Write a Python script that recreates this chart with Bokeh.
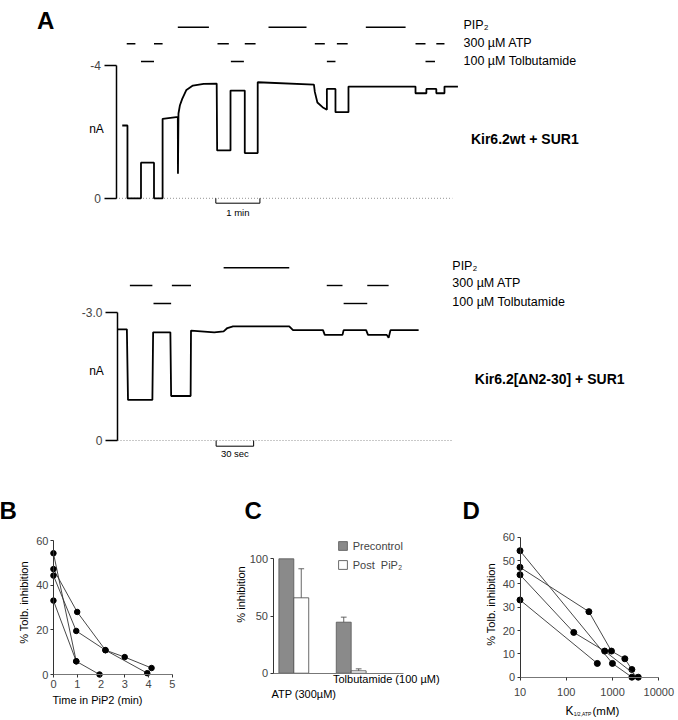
from bokeh.plotting import figure
from bokeh.models import Range1d, FixedTicker, Legend, LegendItem
from bokeh.layouts import column, row
from bokeh.embed import file_html
from bokeh.resources import INLINE
from bokeh.core.properties import value
import math

FONT = "Liberation Sans"

# ---------------- data ----------------
# Panel A, upper record: Kir6.2wt + SUR1 (time in s, current in nA)
a1_time = [8.5, 15.6, 15.6, 34.0, 34.0, 51.7, 51.7, 63.4, 63.4, 82.0, 84.1, 84.3, 85.0, 87.0,
           90.1, 95.8, 104.6, 119.3, 137.0, 137.6, 155.8, 155.8, 175.2, 175.2, 192.8, 192.8,
           269.3, 270.5, 274.0, 281.0, 286.9, 286.9, 298.6, 298.6, 316.3, 316.3, 407.5, 407.5,
           422.3, 422.3, 435.8, 435.8, 446.9, 446.9, 465.2]
a1_current = [-2.19, -2.19, 0.0, 0.0, -1.07, -1.07, 0.0, 0.0, -2.39, -2.44, -2.44, -0.74, -2.55, -2.80,
              -2.99, -3.26, -3.39, -3.44, -3.45, -1.44, -1.44, -3.24, -3.24, -1.36, -1.36, -3.49,
              -3.42, -3.20, -2.88, -2.74, -2.66, -3.29, -3.29, -2.59, -2.59, -3.36, -3.36, -3.16,
              -3.16, -3.29, -3.29, -3.16, -3.16, -3.36, -3.36]
a1_pip2 = [(84.1, 126.4), (207.5, 259.2), (339.9, 394.0)]
a1_atp = [(14.6, 26.4), (51.7, 63.4), (138.1, 153.5), (175.2, 189.9),
          (270.5, 284.1), (300.5, 315.2), (407.5, 421.1), (435.8, 446.9)]
a1_tolb = [(34.0, 51.7), (156.3, 174.0), (286.9, 298.6), (421.1, 434.0)]
a1_scale = (135.8, 60.0)          # start, length (s)  -> "1 min"
a1_ticks = [-4, 0]
a1_tick_labels = ["-4", "0"]

# Panel A, lower record: Kir6.2[dN2-30] + SUR1
a2_time = [0.0, 7.5, 8.4, 27.9, 28.5, 42.3, 42.9, 58.5, 58.8, 77.4, 84.9, 87.9, 92.4, 137.4,
           140.4, 164.4, 165.8, 180.0, 180.9, 198.9, 200.4, 215.4, 216.9, 218.4, 240.9]
a2_current = [-2.60, -2.60, -0.95, -0.95, -2.53, -2.53, -1.04, -1.04, -2.57, -2.53, -2.55, -2.63,
              -2.67, -2.67, -2.58, -2.58, -2.47, -2.47, -2.58, -2.58, -2.47, -2.47, -2.40, -2.58, -2.58]
a2_pip2 = [(84.9, 137.4)]
a2_atp = [(9.9, 27.9), (43.5, 58.8), (167.4, 180.0), (199.8, 216.9)]
a2_tolb = [(28.8, 42.9), (180.9, 199.8)]
a2_scale = (78.9, 30.0)           # "30 sec"
a2_ticks = [-3, 0]
a2_tick_labels = ["-3.0", "0"]

stim_labels = ["PIP₂", "300 µM ATP", "100 µM Tolbutamide"]

# Panel B: % tolbutamide inhibition vs time in PIP2 (min)
b_time_1 = [0, 0.96, 1.94]
b_inhib_1 = [54.3, 5.9, 0.0]
b_time_2 = [0, 1.0, 2.19, 3.0, 4.13]
b_inhib_2 = [47.2, 28.0, 10.9, 7.8, 2.9]
b_time_3 = [0, 0.96, 2.19, 3.95]
b_inhib_3 = [44.3, 19.5, 10.9, 0.6]
b_time_4 = [0, 0.96]
b_inhib_4 = [33.1, 5.9]
b_xticks = [0, 1, 2, 3, 4, 5]
b_yticks = [0, 20, 40, 60]

# Panel C: % inhibition
c_groups = ["ATP (300µM)", "Tolbutamide (100 µM)"]
c_pre = [100.0, 44.6]
c_pre_err = [0.0, 4.4]
c_post = [65.9, 2.1]
c_post_err = [25.4, 1.7]
c_yticks = [0, 50, 100]

# Panel D: % tolbutamide inhibition vs K1/2,ATP (mM)
d_k_1 = [10, 995, 2618]
d_inhib_1 = [54.2, 5.9, 0.0]
d_k_2 = [10, 308, 946, 1845, 2618]
d_inhib_2 = [47.1, 28.1, 11.2, 7.9, 3.3]
d_k_3 = [10, 145, 676, 3597]
d_inhib_3 = [43.9, 19.2, 11.2, 0.0]
d_k_4 = [10, 469]
d_inhib_4 = [33.1, 5.9]
d_xticks = [10, 100, 1000, 10000]
d_yticks = [0, 10, 20, 30, 40, 50, 60]

# ---------------- page layout (pixels) ----------------
W = 676
A1_Y0, A1_Y1 = 0, 232
A2_Y0, A2_Y1 = 232, 470
R_Y0, R_Y1 = 470, 718
B_X0, B_X1 = 0, 215
C_X0, C_X1 = 215, 458
D_X0, D_X1 = 458, W

# pixel -> data maps for each panel
fx1 = lambda px: (px - 115.5) / 0.735
fy1 = lambda py: (py - 197.8) / 33.25
fx2 = lambda px: (px - 117.0) / 1.25
fy2 = lambda py: (py - 440.0) / 42.77
fxB = lambda px: (px - 52.95) / 23.75
fyB = lambda py: (674.0 - py) / 2.233
fxC = lambda px: 1 + (px - 293.3) / 57.4
fyC = lambda py: (672.7 - py) / 1.144
fxD = lambda px: 10 ** (1 + (px - 519.5) / 46.27)
fyD = lambda py: (676.7 - py) / 2.333

LETTER = "24px"


def base_fig(w, h, xr, yr, x_type="linear", x_axis=True):
    p = figure(width=w, height=h, x_range=Range1d(*xr), y_range=Range1d(*yr),
               x_axis_type=(x_type if x_axis else None), output_backend="svg",
               toolbar_location=None, min_border=0, min_border_left=0, min_border_right=0,
               min_border_top=0, min_border_bottom=0)
    p.outline_line_color = None
    p.grid.visible = False
    p.background_fill_color = "white"
    return p


def txt(p, x, y, s, size, align="left", baseline="middle", bold=False, angle=0.0):
    p.text(x=[x], y=[y], text=[s], text_font=value(FONT), text_font_size=size,
           text_align=align, text_baseline=baseline,
           text_font_style=("bold" if bold else "normal"), angle=angle)


def style_axis(ax, size="11px", tick_out=3, color="#333333", width=1.0):
    ax.major_label_text_font = FONT
    ax.major_label_text_font_size = size
    ax.minor_tick_line_color = None
    ax.major_tick_out = tick_out
    ax.major_tick_in = 0
    ax.axis_line_color = color
    ax.axis_line_width = width
    ax.major_tick_line_color = color
    ax.major_tick_line_width = width
    ax.major_label_standoff = 2


def trace_fig(y0, y1, fx, fy, t, cur, pip2, atp, tolb, ticks, tick_labels, geo):
    p = base_fig(W, y1 - y0, (fx(0), fx(W)), (fy(y1), fy(y0)), x_axis=False)
    ax = p.yaxis[0]
    style_axis(ax, size="12px", tick_out=12, color="black", width=1.5)
    ax.major_label_standoff = 3
    ax.fixed_location = 0
    ax.bounds = (min(ticks), max(ticks))
    ax.ticker = FixedTicker(ticks=ticks)
    ax.major_label_overrides = dict(zip(ticks, tick_labels))
    # zero line
    p.line([0, fx(geo["zero_end"])], [0, 0], line_dash="1 2", line_color="#777777", line_width=0.8)
    # current trace
    p.line(t, cur, line_color="black", line_width=1.8)
    # application bars
    for bars, lv in zip((pip2, atp, tolb), geo["levels"]):
        p.segment(x0=[s for s, e in bars], x1=[e for s, e in bars],
                  y0=[fy(lv)] * len(bars), y1=[fy(lv)] * len(bars),
                  line_color="black", line_width=1.4)
    for s, ly in zip(stim_labels, geo["label_y"]):
        txt(p, fx(geo["label_x"]), fy(ly), s, "12.5px")
    txt(p, fx(geo["title_x"]), fy(geo["title_y"]), geo["title"], "14px", bold=True)
    s0, sl = geo["scale"]
    d = fy(geo["scale_y"])
    p.line([s0, s0, s0 + sl, s0 + sl], [0, d, d, 0], line_color="black", line_width=1)
    txt(p, s0 + sl / 2, fy(geo["scale_txt_y"]), geo["scale_txt"], "9.5px", align="center")
    txt(p, fx(geo["na"][0]), fy(geo["na"][1]), "nA", "12px", align="center")
    return p


pA1 = trace_fig(A1_Y0, A1_Y1, fx1, fy1, a1_time, a1_current, a1_pip2, a1_atp, a1_tolb,
                a1_ticks, a1_tick_labels,
                dict(zero_end=451.8, levels=(26.7, 43.3, 61.0), label_x=463, label_y=(24.3, 42.3, 60.0),
                     title="Kir6.2wt + SUR1", title_x=470.4, title_y=138,
                     scale=a1_scale, scale_y=202.7, scale_txt="1 min", scale_txt_y=211.5,
                     na=(96, 128.7)))
txt(pA1, fx1(36.5), fy1(20.2), "A", LETTER, baseline="alphabetic", bold=True)

pA2 = trace_fig(A2_Y0, A2_Y1, fx2, fy2, a2_time, a2_current, a2_pip2, a2_atp, a2_tolb,
                a2_ticks, a2_tick_labels,
                dict(zero_end=451.8, levels=(267.3, 285.0, 303.0), label_x=451.8, label_y=(265, 282.5, 301),
                     title="Kir6.2[ΔN2-30] + SUR1", title_x=474.3, title_y=378,
                     scale=a2_scale, scale_y=445.7, scale_txt="30 sec", scale_txt_y=452.5,
                     na=(96, 370)))

RH = R_Y1 - R_Y0

# ---------------- Panel B ----------------
pB = base_fig(B_X1 - B_X0, RH, (fxB(B_X0), fxB(B_X1)), (fyB(R_Y1), fyB(R_Y0)))
for ax in (pB.xaxis[0], pB.yaxis[0]):
    style_axis(ax)
    ax.fixed_location = 0
pB.xaxis.ticker = FixedTicker(ticks=b_xticks)
pB.yaxis.ticker = FixedTicker(ticks=b_yticks)
pB.xaxis.bounds = (min(b_xticks), max(b_xticks))
pB.yaxis.bounds = (min(b_yticks), max(b_yticks))
pB.xaxis.axis_line_color = "#777777"
for tt, vv in ((b_time_1, b_inhib_1), (b_time_2, b_inhib_2), (b_time_3, b_inhib_3), (b_time_4, b_inhib_4)):
    pB.line(tt, vv, line_color="#333333", line_width=0.9)
    pB.scatter(tt, vv, size=5.5, color="black")
txt(pB, fxB(-1), fyB(510), "B", LETTER, baseline="alphabetic", bold=True)
txt(pB, fxB(23), fyB(602), "% Tolb. inhibition", "11px", align="center", angle=math.pi / 2)
txt(pB, fxB(97), fyB(699), "Time in PiP2 (min)", "11px", align="center")

# ---------------- Panel C ----------------
c_pos = [1.0, 2.0]
c_off = 0.13
c_w = 0.26
pC = base_fig(C_X1 - C_X0, RH, (fxC(C_X0), fxC(C_X1)), (fyC(R_Y1), fyC(R_Y0)))
for ax in (pC.xaxis[0], pC.yaxis[0]):
    style_axis(ax)
pC.yaxis.fixed_location = fxC(272.5)
pC.yaxis.ticker = FixedTicker(ticks=c_yticks)
pC.yaxis.bounds = (min(c_yticks), max(c_yticks))
pC.xaxis.fixed_location = 0
pC.xaxis.ticker = FixedTicker(ticks=[])
pC.xaxis.bounds = (fxC(272.5), fxC(402.7))
pC.xaxis.axis_line_color = "#777777"
pre_x = [g - c_off for g in c_pos]
post_x = [g + c_off for g in c_pos]
r_pre = pC.vbar(x=pre_x, top=c_pre, width=c_w, fill_color="#8a8a8a", line_color="#555555", line_width=0.8)
r_post = pC.vbar(x=post_x, top=c_post, width=c_w, fill_color="white", line_color="#444444", line_width=0.8)
for xs, vs, es in ((pre_x, c_pre, c_pre_err), (post_x, c_post, c_post_err)):
    xe = [x for x, e in zip(xs, es) if e > 0]
    lo = [v for v, e in zip(vs, es) if e > 0]
    hi = [v + e for v, e in zip(vs, es) if e > 0]
    pC.segment(x0=xe, y0=lo, x1=xe, y1=hi, line_color="#555555", line_width=0.9)
    pC.segment(x0=[x - 0.05 for x in xe], y0=hi, x1=[x + 0.05 for x in xe], y1=hi,
               line_color="#555555", line_width=0.9)
legend = Legend(items=[LegendItem(label="Precontrol", renderers=[r_pre]),
                       LegendItem(label="Post  PiP₂", renderers=[r_post])],
                location=(336.7 - C_X0, R_Y1 - 570.7), border_line_color=None,
                background_fill_alpha=0, padding=0, margin=0, spacing=7,
                glyph_width=11, glyph_height=11, label_height=11, label_standoff=5,
                label_text_font=FONT, label_text_font_size="11px")
pC.add_layout(legend, "center")
txt(pC, fxC(244), fyC(510), "C", LETTER, baseline="alphabetic", bold=True)
txt(pC, fxC(240), fyC(594), "% inhibition", "11px", align="center", angle=math.pi / 2)
txt(pC, fxC(303.3), fyC(693.3), c_groups[0], "11px", align="center")
txt(pC, fxC(385.8), fyC(678.3), c_groups[1], "11px", align="center")

# ---------------- Panel D ----------------
pD = base_fig(D_X1 - D_X0, RH, (fxD(D_X0), fxD(D_X1)), (fyD(R_Y1), fyD(R_Y0)), x_type="log")
for ax in (pD.xaxis[0], pD.yaxis[0]):
    style_axis(ax)
pD.yaxis.fixed_location = 10
pD.xaxis.fixed_location = 0
pD.xaxis.ticker = FixedTicker(ticks=d_xticks)
pD.xaxis.major_label_overrides = {k: str(k) for k in d_xticks}
pD.yaxis.ticker = FixedTicker(ticks=d_yticks)
pD.xaxis.bounds = (min(d_xticks), max(d_xticks))
pD.yaxis.bounds = (min(d_yticks), max(d_yticks))
pD.xaxis.axis_line_color = "#777777"
pD.xaxis.major_label_standoff = 8
for kk, vv in ((d_k_1, d_inhib_1), (d_k_2, d_inhib_2), (d_k_3, d_inhib_3), (d_k_4, d_inhib_4)):
    pD.line(kk, vv, line_color="#333333", line_width=0.9)
    pD.scatter(kk, vv, size=6, color="black")
txt(pD, fxD(462), fyD(510), "D", LETTER, baseline="alphabetic", bold=True)
txt(pD, fxD(490.7), fyD(604), "% Tolb. inhibition", "11px", align="center", angle=math.pi / 2)
txt(pD, fxD(565), fyD(710), "K", "12px")
txt(pD, fxD(573.2), fyD(713.5), "1/2,ATP", "5px")
txt(pD, fxD(592), fyD(710), "(mM)", "11.5px")

layout = column(pA1, pA2, row(pB, pC, pD))
open("out.html", "w").write(file_html(layout, INLINE))
